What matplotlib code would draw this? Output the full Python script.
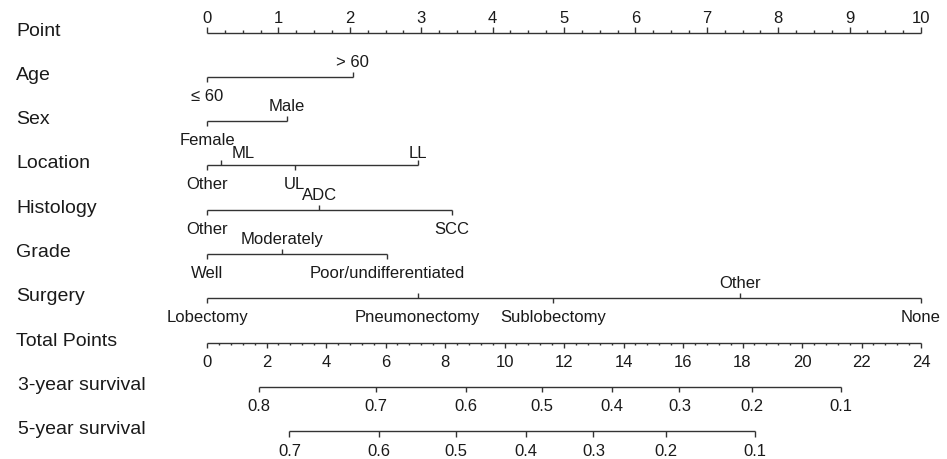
import numpy as np
import matplotlib; matplotlib.use("Agg")
import matplotlib.pyplot as plt

plt.rcParams["font.family"] = ["Liberation Sans", "DejaVu Sans"]

# ---------------------------------------------------------------- data
ROW_NAMES = ["Point", "Age", "Sex", "Location", "Histology", "Grade", "Surgery",
             "Total Points", "3-year survival", "5-year survival"]

POINT_MAX = 10
TOTAL_MAX = 24

AGE_LEVELS = ["\u2264 60", "> 60"]
AGE_PTS = [0, 2.04]
SEX_LEVELS = ["Female", "Male"]
SEX_PTS = [0, 1.12]
LOC_LEVELS = ["Other", "ML", "UL", "LL"]
LOC_PTS = [0, 0.19, 1.23, 2.95]
HIST_LEVELS = ["Other", "ADC", "SCC"]
HIST_PTS = [0, 1.57, 3.43]
GRADE_LEVELS = ["Well", "Moderately", "Poor/undifferentiated"]
GRADE_PTS = [0, 1.05, 2.52]
SURG_LEVELS = ["Lobectomy", "Pneumonectomy", "Sublobectomy", "Other", "None"]
SURG_PTS = [0, 2.95, 4.85, 7.46, 10.0]

SURV3_LABELS = ["0.8", "0.7", "0.6", "0.5", "0.4", "0.3", "0.2", "0.1"]
SURV3_TP = [1.75, 5.68, 8.69, 11.25, 13.60, 15.88, 18.31, 21.31]
SURV5_LABELS = ["0.7", "0.6", "0.5", "0.4", "0.3", "0.2", "0.1"]
SURV5_TP = [2.77, 5.79, 8.36, 10.71, 12.99, 15.42, 18.42]

# label side (True = above the line) and tick direction (True = up) per level
VARS = [
    (AGE_LEVELS, AGE_PTS, [False, True], [False, True]),
    (SEX_LEVELS, SEX_PTS, [False, True], [False, True]),
    (LOC_LEVELS, LOC_PTS, [False, True, False, True], [False, True, False, True]),
    (HIST_LEVELS, HIST_PTS, [False, True, False], [False, True, False]),
    (GRADE_LEVELS, GRADE_PTS, [False, True, False], [False, True, False]),
    (SURG_LEVELS, SURG_PTS, [False, False, False, True, False], [False, True, False, True, False]),
]
# label nudges in pixels (dx, dy), dy > 0 moves down
NUDGE = {(3, "ML"): (23, 3), (3, "LL"): (0, 3)}

# ---------------------------------------------------------------- layout
W, H = 947, 459
X0, XS = 207, 71.4        # pixel of point 0, pixels per point
Y0, YS = 32.5, 44.3       # pixel of first row, pixels per row
PX = 1 / YS               # one vertical pixel in data units
LC = "#333333"; TC = "#1a1a1a"
FS_LAB = 14; FS_TXT = 12

fig = plt.figure(figsize=(W / 100, H / 100), dpi=100)
ax = fig.add_axes([0, 0, 1, 1])
ax.set_xlim(-X0 / XS, (W - X0) / XS)
ax.set_ylim((H - Y0) / YS, -Y0 / YS)
ax.axis("off")

def hline(x0, x1, y):
    ax.plot([x0, x1], [y, y], color=LC, lw=1.0, solid_capstyle="butt")

def tick(x, y, length, up):
    ax.plot([x, x], [y, y + (-length if up else length) * PX], color=LC, lw=1.0, solid_capstyle="butt")

# row names
for i, name in enumerate(ROW_NAMES):
    xl = 18 if "survival" in name else 16
    ax.text(xl / W, i + 3 * PX, name, transform=ax.get_yaxis_transform(),
            ha="left", va="baseline", fontsize=FS_LAB, color=TC)

# Point scale
hline(0, POINT_MAX, 0)
for v in np.arange(0, POINT_MAX + 0.001, 0.25):
    major = abs(v - round(v)) < 1e-9
    tick(v, 0, 5.5 if major else 2.8, True)
    if major:
        ax.text(v, -10 * PX, f"{int(round(v))}", ha="center", va="baseline", fontsize=FS_TXT, color=TC)

# variable scales
for r, (levels, pts, above, up) in enumerate(VARS, start=1):
    hline(min(pts), max(pts), r)
    for lab, p, a, u in zip(levels, pts, above, up):
        tick(p, r, 5, u)
        dx, dy = NUDGE.get((r, lab), (0, 0))
        xt = p + dx / XS
        if a:
            ax.text(xt, r + (dy - 10) * PX, lab, ha="center", va="baseline", fontsize=FS_TXT, color=TC)
        else:
            ax.text(xt, r + (dy + 12) * PX, lab, ha="center", va="top", fontsize=FS_TXT, color=TC)

# Total points
scale = POINT_MAX / TOTAL_MAX
hline(0, POINT_MAX, 7)
for v in np.arange(0, TOTAL_MAX + 0.001, 0.4):
    major = abs(v / 2 - round(v / 2)) < 1e-6
    tick(v * scale, 7, 5.5 if major else 2.8, False)
    if major:
        ax.text(v * scale, 7 + 12 * PX, f"{int(round(v))}", ha="center", va="top", fontsize=FS_TXT, color=TC)

# survival scales
for r, labs, tps in [(8, SURV3_LABELS, SURV3_TP), (9, SURV5_LABELS, SURV5_TP)]:
    hline(tps[0] * scale, tps[-1] * scale, r)
    for lab, tp in zip(labs, tps):
        tick(tp * scale, r, 5.5, False)
        ax.text(tp * scale, r + 12.5 * PX, lab, ha="center", va="top", fontsize=FS_TXT, color=TC)

fig.savefig("out.png", dpi=100, facecolor="white")
